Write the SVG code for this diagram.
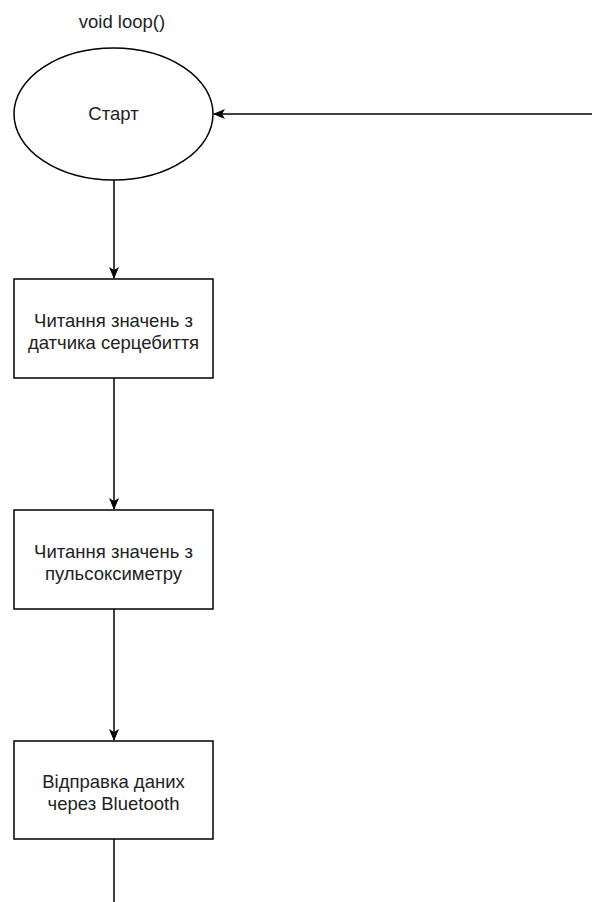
<svg xmlns="http://www.w3.org/2000/svg" width="592" height="902" viewBox="0 0 592 902">
<style>
.shape{fill:#fff;stroke:#000;stroke-width:1.5}
.edge{fill:none;stroke:#000;stroke-width:1.5}
text{font-family:"Liberation Sans",Arial,sans-serif;font-size:18.5px;fill:#222;text-anchor:middle}
</style>
<defs>
<marker id="arr" markerWidth="12" markerHeight="10" refX="11" refY="5" orient="auto" markerUnits="userSpaceOnUse">
<path d="M0,0 L12,5 L0,10 L3,5 Z" fill="#000"/>
</marker>
</defs>
<rect width="592" height="902" fill="#fff"/>
<g id="title"><text x="122" y="28">void loop()</text></g>
<g id="connectors">
<path class="edge" d="M592,114 L214,114" marker-end="url(#arr)"/>
<path class="edge" d="M114,180 L114,278" marker-end="url(#arr)"/>
<path class="edge" d="M114,378 L114,509" marker-end="url(#arr)"/>
<path class="edge" d="M114,609 L114,740" marker-end="url(#arr)"/>
<path class="edge" d="M114,839 L114,902"/>
</g>
<g id="start">
<ellipse class="shape" cx="113.5" cy="114" rx="99.5" ry="66"/>
<text x="113.5" y="120">Старт</text>
</g>
<g id="read-heart">
<rect class="shape" x="14" y="279" width="199" height="99"/>
<text x="113.5" y="327">Читання значень з</text>
<text x="113.5" y="349">датчика серцебиття</text>
</g>
<g id="read-pulseox">
<rect class="shape" x="14" y="510" width="199" height="99"/>
<text x="113.5" y="558">Читання значень з</text>
<text x="113.5" y="580">пульсоксиметру</text>
</g>
<g id="send-bt">
<rect class="shape" x="14" y="741" width="199" height="98"/>
<text x="113.5" y="788">Відправка даних</text>
<text x="113.5" y="810">через Bluetooth</text>
</g>
</svg>
